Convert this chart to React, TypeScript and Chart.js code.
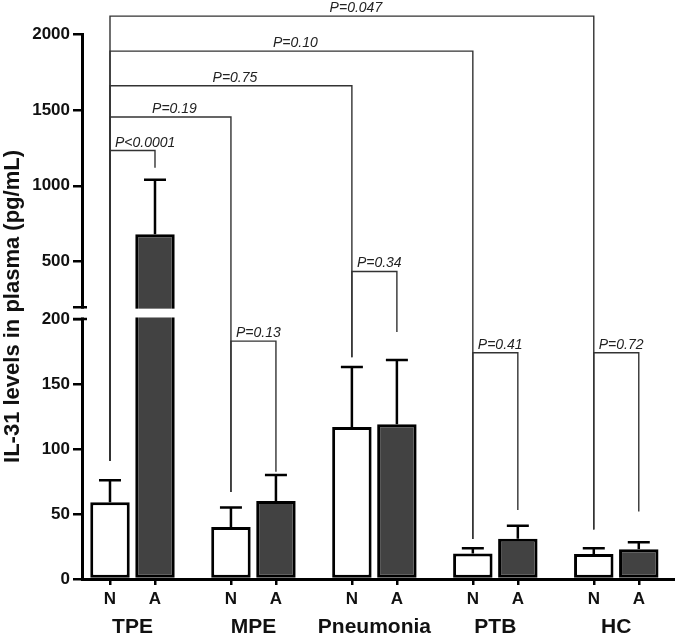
import React, { useEffect, useRef } from 'react';
import { Chart, registerables, LinearScale } from 'chart.js';

// ---------- data ----------
const groups = ['TPE', 'MPE', 'Pneumonia', 'PTB', 'HC'];
const seriesNames = ['N', 'A'];
const nMeans = [59, 40, 117, 19.7, 19.2];
const nSem = [17, 15, 46, 4, 4.4];
const aMeans = [680, 60, 119, 31, 22.8];
const aSem = [360, 20, 49.5, 10, 5.5];
const yTicks = [0, 50, 100, 150, 200, 500, 1000, 1500, 2000];
const Y_BREAK = 200;

// significance brackets: [group, series(0=N,1=A)]
const bracketLabels = ['P<0.0001', 'P=0.19', 'P=0.75', 'P=0.10', 'P=0.047', 'P=0.13', 'P=0.34', 'P=0.41', 'P=0.72'];
const bracketFrom = [[0, 0], [0, 0], [0, 0], [0, 0], [0, 0], [1, 0], [2, 0], [3, 0], [4, 0]];
const bracketTo = [[0, 1], [1, 0], [2, 0], [3, 0], [4, 0], [1, 1], [2, 1], [3, 1], [4, 1]];
const bracketLevel = [1232, 1453, 1659, 1887, 2118, 183, 435, 174, 174];
const bracketFromEnd = [91, 91, 91, 91, 91, 67, 170.5, 30.8, 38];
const bracketToEnd = [1118, 67, 170.5, 30.8, 38, 82.5, 190, 53, 52];

const FONT = '"Liberation Sans", Arial, Helvetica, sans-serif';
const CAT_PCT = 0.7441;
const X_MIN = -0.4175;
const X_MAX = 4.4855;

// ---------- broken y scale ----------
class BrokenLinearScale extends LinearScale {
  static id = 'brokenLinear';
  static defaults = { ...(LinearScale as any).defaults };
  buildTicks() {
    return yTicks.filter((v) => v >= (this as any).min && v <= (this as any).max).map((v) => ({ value: v }));
  }
  _parts() {
    const o: any = (this as any).options;
    const h = (this as any).bottom - (this as any).top;
    const lowerH = h * o.lowerFraction;
    const gapH = h * o.gapFraction;
    return { lowerH, gapH, upperH: h - lowerH - gapH, brk: o.breakValue };
  }
  getPixelForValue(value: number) {
    const s: any = this;
    const { lowerH, gapH, upperH, brk } = this._parts();
    if (value <= brk) return s.bottom - ((value - s.min) / (brk - s.min)) * lowerH;
    return s.bottom - lowerH - gapH - ((value - brk) / (s.max - brk)) * upperH;
  }
  getValueForPixel(pixel: number) {
    const s: any = this;
    const { lowerH, gapH, upperH, brk } = this._parts();
    const d = s.bottom - pixel;
    if (d <= lowerH) return s.min + (d / lowerH) * (brk - s.min);
    return brk + ((d - lowerH - gapH) / upperH) * (s.max - brk);
  }
}

Chart.register(...registerables, BrokenLinearScale as any);

const overlayPlugin = {
  id: 'overlay',
  afterDatasetsDraw(chart: any) {
    const ctx = chart.ctx;
    const y = chart.scales.y;
    const area = chart.chartArea;
    const means = [nMeans, aMeans];
    const sems = [nSem, aSem];
    ctx.save();
    ctx.strokeStyle = '#000';
    ctx.lineWidth = 2.5;
    for (let d = 0; d < 2; d++) {
      const meta = chart.getDatasetMeta(d);
      meta.data.forEach((bar: any, i: number) => {
        const top = y.getPixelForValue(means[d][i] + sems[d][i]);
        ctx.beginPath();
        ctx.moveTo(bar.x, bar.y);
        ctx.lineTo(bar.x, top);
        ctx.moveTo(bar.x - 11, top);
        ctx.lineTo(bar.x + 11, top);
        ctx.stroke();
      });
    }
    // axis break
    const p = y._parts();
    const lowerTop = y.bottom - p.lowerH;
    const upperBottom = lowerTop - p.gapH;
    ctx.fillStyle = '#fff';
    ctx.fillRect(area.left - 12, upperBottom + 1.5, area.right - area.left + 12, lowerTop - upperBottom - 3);
    ctx.lineWidth = 2.5;
    ctx.beginPath();
    ctx.moveTo(area.left - 9, upperBottom);
    ctx.lineTo(area.left + 5, upperBottom);
    ctx.moveTo(area.left - 9, lowerTop);
    ctx.lineTo(area.left + 5, lowerTop);
    ctx.stroke();
    ctx.restore();
  },
  afterDraw(chart: any) {
    const ctx = chart.ctx;
    const y = chart.scales.y;
    const barX = (ref: number[]) => chart.getDatasetMeta(ref[1]).data[ref[0]].x;
    ctx.save();
    ctx.strokeStyle = '#333';
    ctx.lineWidth = 1.4;
    ctx.fillStyle = '#222';
    ctx.font = 'italic 14px ' + FONT;
    ctx.textAlign = 'center';
    ctx.textBaseline = 'alphabetic';
    bracketLabels.forEach((label, k) => {
      const x1 = barX(bracketFrom[k]);
      const x2 = barX(bracketTo[k]);
      const yl = y.getPixelForValue(bracketLevel[k]);
      const y1 = y.getPixelForValue(bracketFromEnd[k]);
      const y2 = y.getPixelForValue(bracketToEnd[k]);
      ctx.beginPath();
      ctx.moveTo(x1, y1);
      ctx.lineTo(x1, yl);
      ctx.lineTo(x2, yl);
      ctx.lineTo(x2, y2);
      ctx.stroke();
      const w = ctx.measureText(label).width;
      const tx = Math.max((x1 + x2) / 2 + 4, x1 + 5 + w / 2);
      ctx.fillText(label, tx, yl - 4);
    });
    ctx.restore();
  },
};

export default function App() {
  const ref = useRef<HTMLCanvasElement | null>(null);
  useEffect(() => {
    if (!ref.current) return;
    const off = CAT_PCT / 4;
    const chart = new Chart(ref.current, {
      type: 'bar',
      data: {
        datasets: [
          {
            label: seriesNames[0],
            data: groups.map((_, i) => ({ x: i, y: nMeans[i] })),
            backgroundColor: '#ffffff',
            borderColor: '#000',
            borderWidth: 3,
            borderSkipped: false,
            categoryPercentage: CAT_PCT,
            barPercentage: 0.877,
          },
          {
            label: seriesNames[1],
            data: groups.map((_, i) => ({ x: i, y: aMeans[i] })),
            backgroundColor: '#424242',
            borderColor: '#000',
            borderWidth: 3,
            borderSkipped: false,
            categoryPercentage: CAT_PCT,
            barPercentage: 0.877,
          },
        ],
      } as any,
      options: {
        responsive: false,
        animation: false,
        layout: { padding: { top: 34, left: 0, right: 0, bottom: 0 } },
        plugins: { legend: { display: false }, tooltip: { enabled: false } },
        scales: {
          // group axis (used by the bars), outer row of labels
          x: {
            type: 'linear',
            position: 'bottom',
            min: X_MIN,
            max: X_MAX,
            offset: false,
            weight: 1,
            afterBuildTicks: (s: any) => {
              s.ticks = groups.map((_, i) => ({ value: i }));
            },
            afterFit: (s: any) => {
              s.height = 29;
            },
            border: { display: false },
            grid: { display: false, drawTicks: false },
            ticks: {
              autoSkip: false,
              maxRotation: 0,
              padding: 6,
              color: '#111',
              font: { family: FONT, size: 21, weight: 'bold' },
              callback: (_v: any, i: number) => groups[i],
            },
          },
          // N / A axis, inner row with tick marks and the axis line
          xs: {
            type: 'linear',
            position: 'bottom',
            min: X_MIN,
            max: X_MAX,
            offset: false,
            weight: 0,
            afterBuildTicks: (s: any) => {
              s.ticks = groups.flatMap((_, i) => [{ value: i - off }, { value: i + off }]);
            },
            afterFit: (s: any) => {
              s.height = 30;
            },
            border: { display: true, color: '#000', width: 3 },
            grid: { display: true, drawOnChartArea: false, drawTicks: true, tickLength: 6, color: '#000', lineWidth: 2.5, offset: false },
            ticks: {
              autoSkip: false,
              maxRotation: 0,
              padding: 4,
              color: '#111',
              font: { family: FONT, size: 17, weight: 'bold' },
              callback: (_v: any, i: number) => seriesNames[i % 2],
            },
          },
          y: {
            type: 'brokenLinear',
            min: 0,
            max: 2000,
            breakValue: Y_BREAK,
            lowerFraction: 0.4771,
            gapFraction: 0.0217,
            afterFit: (s: any) => {
              s.width = 82;
            },
            border: { display: true, color: '#000', width: 3 },
            grid: { display: true, drawOnChartArea: false, drawTicks: true, tickLength: 9, color: '#000', lineWidth: 2.5 },
            ticks: {
              autoSkip: false,
              padding: 3,
              color: '#111',
              font: { family: FONT, size: 17, weight: 'bold' },
              callback: (v: any) => String(v),
            },
            title: {
              display: true,
              text: 'IL-31 levels in plasma (pg/mL)',
              color: '#111',
              font: { family: FONT, size: 22, weight: 'bold' },
              padding: { top: 0, bottom: 0 },
            },
          } as any,
        },
      } as any,
      plugins: [overlayPlugin],
    });
    return () => chart.destroy();
  }, []);
  return (
    <canvas
      ref={ref}
      width={675}
      height={638}
      style={{ display: 'block', position: 'absolute', left: 0, top: 0 }}
    />
  );
}
